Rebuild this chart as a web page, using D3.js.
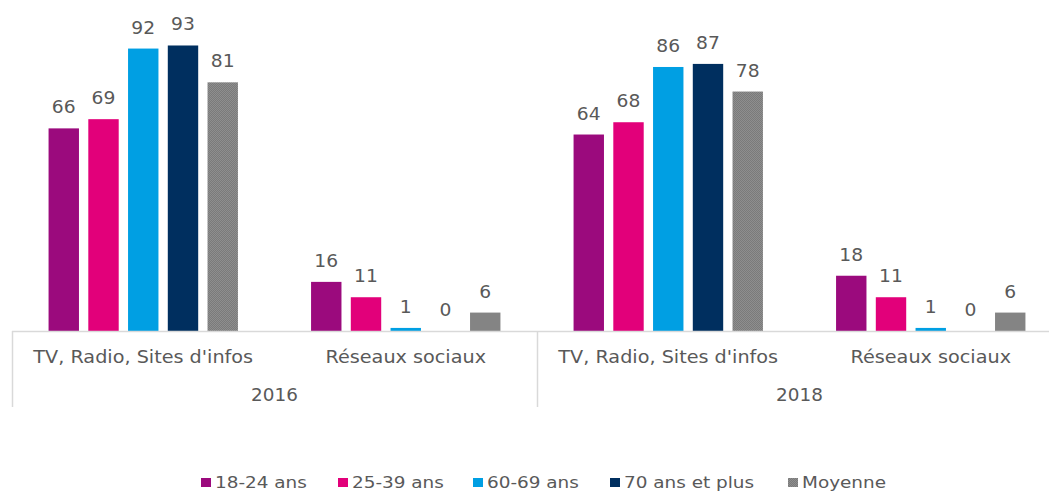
<!DOCTYPE html>
<html><head><meta charset="utf-8">
<script src="https://cdn.jsdelivr.net/npm/d3@7"></script>
<style>body{margin:0;background:#fff;overflow:hidden}svg{display:block}</style>
</head><body>
<svg id="c" width="1049" height="492"></svg>
<script>
const years = ["2016", "2018"];
const categories = ["TV, Radio, Sites d'infos", "Réseaux sociaux"];
const seriesNames = ["18-24 ans", "25-39 ans", "60-69 ans", "70 ans et plus", "Moyenne"];
const seriesColors = ["#9B0A7D", "#E2007A", "#009FE3", "#002F5F", "#808080"];
const v2016 = [[66, 69, 92, 93, 81], [16, 11, 1, 0, 6]];
const v2018 = [[64, 68, 86, 87, 78], [18, 11, 1, 0, 6]];
const yearValues = [v2016, v2018];

const svg = d3.select("#c");
const font = "'DejaVu Sans', Verdana, sans-serif";
const textCol = "#595959";
const left = 12, right = 1062, base = 331;

function stretch(sel, k) {
  sel.each(function() {
    const w = this.getComputedTextLength();
    d3.select(this).attr("textLength", w * k).attr("lengthAdjust", "spacingAndGlyphs");
  });
}

const defs = svg.append("defs");
const pat = defs.append("pattern").attr("id","gpat").attr("width",2).attr("height",2).attr("patternUnits","userSpaceOnUse");
pat.append("rect").attr("width",2).attr("height",2).attr("fill","#7a7a7a");
pat.append("rect").attr("width",1).attr("height",1).attr("fill","#8e8e8e");
pat.append("rect").attr("x",1).attr("y",1).attr("width",1).attr("height",1).attr("fill","#8e8e8e");
const fillFor = i => i === 4 ? "url(#gpat)" : seriesColors[i];

const x0 = d3.scaleBand().domain(years).range([left, right]);
const x1 = d3.scaleBand().domain(categories).range([0, x0.bandwidth()]);
const x2 = d3.scaleBand().domain(seriesNames).range([0, x1.bandwidth()]).paddingInner(0.235).paddingOuter(0.92);
const y = d3.scaleLinear().domain([0, 100]).range([base, 24]);

years.forEach((yr, yi) => {
  const g = svg.append("g").attr("transform", `translate(${x0(yr)},0)`);
  categories.forEach((cat, ci) => {
    const gc = g.append("g").attr("transform", `translate(${x1(cat)},0)`);
    const vals = yearValues[yi][ci];
    seriesNames.forEach((s, si) => {
      const v = vals[si];
      gc.append("rect").attr("x", x2(s)).attr("width", x2.bandwidth())
        .attr("y", y(v)).attr("height", base - y(v)).attr("fill", fillFor(si));
      const t = gc.append("text").attr("x", x2(s) + x2.bandwidth()/2).attr("y", y(v) - 15)
        .attr("text-anchor","middle").attr("font-family",font).attr("font-size",17)
        .attr("fill",textCol).text(v);
      stretch(t, 1.1);
    });
    const ct = gc.append("text").attr("x", x1.bandwidth()/2).attr("y", 363).attr("text-anchor","middle")
      .attr("font-family",font).attr("font-size",17).attr("fill",textCol).text(cat);
    stretch(ct, 1.13);
  });
  const yt = g.append("text").attr("x", x0.bandwidth()/2).attr("y", 401).attr("text-anchor","middle")
    .attr("font-family",font).attr("font-size",17).attr("fill",textCol).text(yr);
  stretch(yt, 1.08);
});

// axis line and dividers
svg.append("line").attr("x1",left).attr("x2",right).attr("y1",base+0.5).attr("y2",base+0.5)
  .attr("stroke","#d9d9d9").attr("stroke-width",1.5);
years.forEach(yr => {
  const xx = Math.round(x0(yr)) + 0.5;
  svg.append("line").attr("x1",xx).attr("x2",xx).attr("y1",base).attr("y2",407)
    .attr("stroke","#d9d9d9").attr("stroke-width",1.5);
});

// legend
const legX = [201, 338, 473, 610, 788];
seriesNames.forEach((s, i) => {
  const lg = svg.append("g").attr("transform", `translate(${legX[i]},0)`);
  lg.append("rect").attr("x",0).attr("y",478).attr("width",10).attr("height",9).attr("fill",fillFor(i));
  const t = lg.append("text").attr("x",14).attr("y",488).attr("font-family",font).attr("font-size",16)
    .attr("fill",textCol).text(s);
  stretch(t, 1.15);
});
</script>
</body></html>
